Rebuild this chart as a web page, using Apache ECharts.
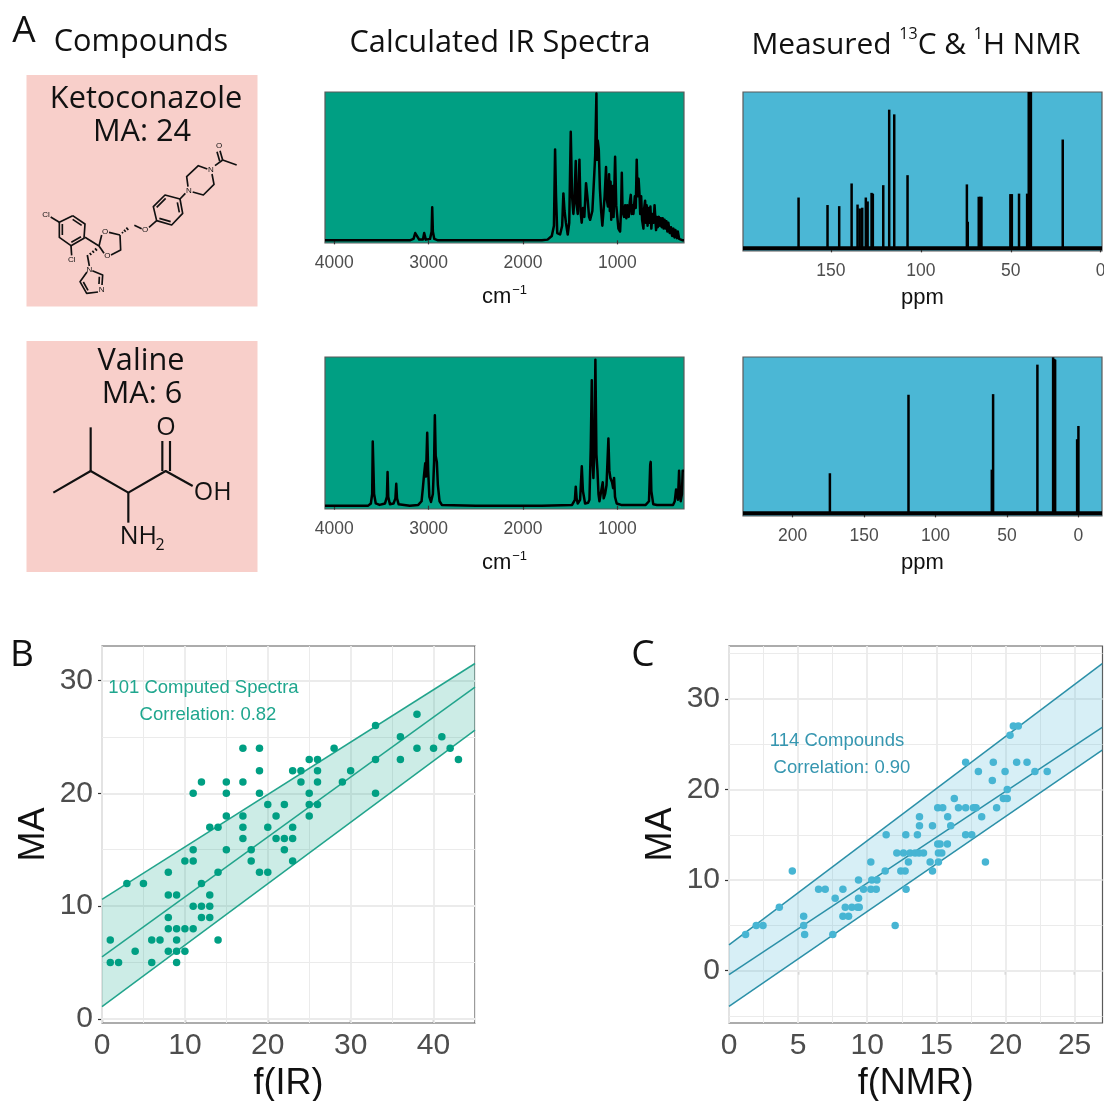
<!DOCTYPE html>
<html><head><meta charset="utf-8">
<style>html,body{margin:0;padding:0;background:#fff}#c{width:1104px;height:1101px}</style>
<script src="https://cdn.jsdelivr.net/npm/echarts@6/dist/echarts.min.js"></script>
</head><body><div id="c"></div>
<script>
// ---------- DATA ----------
const irKetoconazole = [[4098,0],[3200,0],[3160,1],[3142,5],[3130,4],[3125,5],[3100,.5],[3060,.5],[3047,5],[3030,.5],[2985,1],[2968,6],[2962,22.6],[2955,6],[2940,1],[2900,0],[1800,0],[1740,.5],[1695,3],[1672,10],[1660,62],[1650,30],[1637,5],[1607,4],[1585,10],[1572,32],[1560,20],[1545,12],[1526,4],[1510,12],[1494,74],[1480,30],[1466,18],[1455,28],[1441,54],[1432,25],[1420,18],[1402,55],[1390,20],[1378,12],[1365,22],[1350,16],[1332,39],[1315,28],[1300,16],[1289,14],[1278,13],[1265,20],[1244,46],[1235,58],[1222,100],[1216,55],[1208,68],[1197,62],[1185,35],[1172,20],[1159,10],[1147,10],[1135,30],[1120,50],[1112,28],[1100,23],[1088,45],[1080,20],[1072,40],[1065,14],[1058,32],[1049,37],[1040,16],[1024,57],[1012,24],[989,8],[971,6],[960,22],[953,46],[945,20],[929,16],[918,24],[905,15],[895,24],[880,16],[868,26],[858,31],[848,18],[838,24],[830,18],[815,30],[805,22],[795,55],[785,30],[775,42],[766,32],[758,18],[748,30],[738,14],[724,8],[716,22],[706,27],[698,12],[690,24],[680,10],[672,22],[660,12],[650,23],[640,8],[628,18],[615,12],[606,24],[600,24],[590,7],[582,16],[572,9],[560,16],[550,10],[540,15],[530,9],[520,15],[510,8],[500,14],[490,8],[480,13],[470,6],[460,12],[445,5],[432,9],[420,3],[406,8],[395,2],[385,7],[370,1.5],[360,6],[345,1],[330,1],[308,0],[294,0]];
const irValine = [[4098,0],[3640,0],[3612,1.5],[3598,8],[3592,44],[3586,44],[3578,8],[3560,1.5],[3520,.5],[3462,1.5],[3442,6],[3435,23],[3428,6],[3410,1],[3372,1.5],[3352,5],[3343,15],[3335,5],[3318,1],[3200,0],[3110,.5],[3075,3],[3061,12],[3050,20],[3036,29],[3028,20],[3015,50],[3005,24],[2992,6],[2975,2.5],[2955,8],[2942,30],[2934,62],[2925,34],[2913,30],[2902,14],[2884,3],[2860,.5],[2500,0],[1800,0],[1480,.5],[1450,4],[1441,13],[1432,5],[1420,1.5],[1395,4],[1377,27],[1365,10],[1342,1.5],[1310,2],[1296,4],[1282,40],[1271,86],[1262,30],[1254,19],[1243,40],[1233,100],[1222,35],[1211,24],[1200,8],[1190,3],[1170,4],[1155,16],[1145,5],[1130,8],[1115,14],[1095,46],[1085,24],[1074,19],[1056,16],[1045,12],[1035,19],[1025,6],[1007,1.5],[960,.5],[700,.5],[665,3],[652,28],[647,30],[640,10],[620,1],[580,.5],[410,.5],[392,3],[378,11],[368,10],[358,4],[346,24],[338,10],[329,3],[316,8],[308,24],[294,24]];
const nmrKetoPpm = [168,151.9,145.4,138.5,135.2,134,132.6,130.6,129.6,127.4,126.7,120.9,117.6,114.8,107.4,74.4,73.9,67.8,67,66.3,50.2,49.4,45.4,40.9,40,39.6,39.2,38.8,21.1];
const nmrKetoInt = [32.5,27.7,27,41.5,28,25.5,26,32.5,30,35.5,35,40.4,88.7,85.7,46.8,40.9,17,33,33,33,34.7,34.7,35,35,100,100,100,100,69.6];
const nmrValinePpm = [173.9,118.9,59.7,60.6,28.7,17.7,16.9,16.3,0,0.9];
const nmrValineInt = [25.7,76,76.4,28,95.3,100,99,98.5,56,47.5];

const irTicks = [4000,3000,2000,1000];
const nmrKetoTicks = [150,100,50,0];
const nmrValineTicks = [200,150,100,50,0];

const bMajorX=[0,10,20,30,40], bMinorX=[5,15,25,35,45], bMajorY=[0,10,20,30], bMinorY=[5,15,25];
const cMajorX=[0,5,10,15,20,25], cMinorX=[2.5,7.5,12.5,17.5,22.5], cMajorY=[0,10,20,30], cMinorY=[-5,5,15,25,35];

const bPoints = [[38,27],[33,26],[36,25],[41,25],[17,24],[19,24],[28,24],[38,24],[40,24],[42,24],[25,23],[26,23],[33,23],[36,23],[43,23],[19,22],[23,22],[24,22],[26,22],[30,22],[12,21],[15,21],[17,21],[24,21],[26,21],[29,21],[11,20],[15,20],[19,20],[25,20],[33,20],[20,19],[22,19],[25,19],[26,19],[15,18],[17,18],[21,18],[25,18],[13,17],[14,17],[17,17],[20,17],[23,17],[17,16],[21,16],[22,16],[23,16],[11,15],[15,15],[18,15],[22,15],[10,14],[11,14],[18,14],[23,14],[8,13],[14,13],[19,13],[20,13],[3,12],[5,12],[12,12],[8,11],[9,11],[13,11],[11,10],[12,10],[13,10],[8,9],[12,9],[13,9],[8,8],[9,8],[10,8],[11,8],[1,7],[6,7],[7,7],[9,7],[14,7],[4,6],[8,6],[9,6],[10,6],[1,5],[2,5],[6,5],[9,5]];
const cPoints = [[20.57,27],[20.93,27],[20.33,26],[17.12,23],[19.12,23],[20.81,23],[21.56,23],[18.04,22],[19.97,22],[22.13,22],[23.02,22],[19.05,21],[20.13,20],[16.3,19],[19.85,19],[20.13,19],[15.1,18],[15.46,18],[16.6,18],[17.12,18],[17.68,18],[17.87,18],[19.36,18],[13.78,17],[15.82,17],[18.28,17],[13.78,16],[14.72,16],[16.04,16],[11.37,15],[12.79,15],[13.63,15],[17.12,15],[17.56,15],[15.1,14],[15.27,14],[15.8,14],[12.14,13],[12.62,13],[13.1,13],[13.46,13],[13.75,13],[14.07,13],[15.15,13],[15.39,13],[10.26,12],[12.98,12],[14.55,12],[15.15,12],[18.55,12],[4.58,11],[11.3,11],[12.43,11],[12.74,11],[14.72,11],[9.37,10],[10.33,10],[10.7,10],[6.48,9],[6.96,9],[8.24,9],[9.73,9],[10.26,9],[10.65,9],[12.81,9],[7.68,8],[9.37,8],[3.64,7],[8.41,7],[8.89,7],[9.3,7],[9.42,7],[5.4,6],[8.24,6],[8.65,6],[1.97,5],[2.46,5],[5.4,5],[12.02,5],[1.2,4],[5.47,4],[7.51,4]];

const bUpper=[[0,10.6],[45,31.5]], bFit=[[0,5.5],[45,29.4]], bLower=[[0,1.1],[45,25.6]];
const cUpper=[[0,2.86],[27,33.9]], cFit=[[0,-0.44],[27,26.85]], cLower=[[0,-3.93],[27,24.35]];

// ---------- STYLE / LAYOUT ----------
const SANS='"Liberation Sans",Arial,sans-serif', HUM='"Open Sans","Noto Sans",sans-serif';
const GREEN='#009f83', BLUE='#4bb7d5', TICK='#4d4d4d', BORDER='#5a5a5a';
const PANELS=[
 {l:325,t:92,r:684,b:243,bg:GREEN},{l:743,t:92,r:1102,b:251,bg:BLUE},
 {l:325,t:357,r:684,b:509,bg:GREEN},{l:743,t:357,r:1102,b:516,bg:BLUE},
 {l:102,t:646,r:475,b:1023,bg:'#fff'},{l:729,t:646,r:1102.5,b:1023,bg:'#fff'}];
const grid=PANELS.map(p=>({left:p.l,top:p.t,width:p.r-p.l,height:p.b-p.t,show:true,backgroundColor:p.bg,borderColor:BORDER,borderWidth:1.2,outerBoundsMode:'none',containLabel:false}));

function xAx(i,min,max,ticks,name,o){o=o||{};return Object.assign({gridIndex:i,type:'value',min,max,inverse:!!o.inverse,
 name,nameLocation:'middle',nameGap:o.gap,nameTextStyle:Object.assign({fontFamily:SANS,fontSize:o.nameSize,color:'#111',rich:{s:{fontFamily:SANS,fontSize:13,color:'#111',verticalAlign:'top',lineHeight:26,padding:[0,0,0,1]}}},o.nts||{}),
 axisLine:{show:false},splitLine:{show:false},
 axisTick:{show:true,length:o.tl||4,customValues:ticks,lineStyle:{color:'#333',width:1.2}},
 axisLabel:{show:true,customValues:ticks,margin:o.margin,formatter:v=>String(v),fontFamily:SANS,fontSize:o.size,color:TICK,hideOverlap:false,showMinLabel:true,showMaxLabel:true}});}
function yHidden(i,min,max){return {gridIndex:i,type:'value',min,max,show:false,splitLine:{show:false}};}
function yAx(i,min,max,ticks,name,gap){return {gridIndex:i,type:'value',min,max,name,nameLocation:'middle',nameGap:gap,nameRotate:90,
 nameTextStyle:{fontFamily:SANS,fontSize:36,color:'#111'},axisLine:{show:false},splitLine:{show:false},
 axisTick:{show:true,length:4,customValues:ticks,lineStyle:{color:'#333',width:1.2}},
 axisLabel:{show:true,customValues:ticks,margin:9,fontFamily:SANS,fontSize:30,color:TICK}};}

const xAxis=[
 xAx(0,294,4098,irTicks,'cm{s|−1}',{inverse:true,gap:41,size:17.5,nameSize:22,margin:11}),
 xAx(1,-0.74,198.9,nmrKetoTicks,'ppm',{inverse:true,gap:36,size:17.5,nameSize:22,margin:11}),
 xAx(2,294,4098,irTicks,'cm{s|−1}',{inverse:true,gap:41,size:17.5,nameSize:22,margin:11}),
 xAx(3,-16.5,234.7,nmrValineTicks,'ppm',{inverse:true,gap:36,size:17.5,nameSize:22,margin:11}),
 xAx(4,0,45,bMajorX,'f(IR)',{gap:43,size:30,nameSize:36,margin:8}),
 xAx(5,0,27.02,cMajorX,'f(NMR)',{gap:43,size:30,nameSize:36,margin:8})];
const yAxis=[
 yHidden(0,-1.8,101.1),yHidden(1,-1.7,100),yHidden(2,-2.3,101.9),yHidden(3,-1.7,100.2),
 yAx(4,-0.35,33.05,bMajorY,'MA',50),yAx(5,-5.77,35.84,cMajorY,'MA',50)];

const zipPairs=(a,b)=>a.map((v,i)=>[v,b[i]]);
function ir(i,data){return {type:'line',xAxisIndex:i,yAxisIndex:i,data,symbol:'none',silent:true,lineStyle:{color:'#000',width:2.5,join:'round'},z:3};}
function sticks(i,px,iv,xmin,xmax){return [
 {type:'bar',xAxisIndex:i,yAxisIndex:i,data:zipPairs(px,iv),barWidth:2.5,itemStyle:{color:'#000'},silent:true,z:3},
 {type:'line',xAxisIndex:i,yAxisIndex:i,data:[[xmin,0],[xmax,0]],symbol:'none',silent:true,lineStyle:{color:'#000',width:4,cap:'butt'},z:3}];}
function gridLines(i,majX,minX,majY,minY){
 const mk=(arr,k,w)=>arr.map(v=>({[k]:v,lineStyle:{color:'#ebebeb',width:w,type:'solid'}}));
 return {type:'line',xAxisIndex:i,yAxisIndex:i,data:[],symbol:'none',silent:true,z:1,
  markLine:{silent:true,symbol:'none',animation:false,label:{show:false},z:1,
   data:[...mk(minX,'xAxis',1),...mk(minY,'yAxis',1),...mk(majX,'xAxis',1.8),...mk(majY,'yAxis',1.8)]}};
}
function band(i,up,lo,fill){return {type:'custom',xAxisIndex:i,yAxisIndex:i,silent:true,z:2,clip:true,data:[[0,0]],
 renderItem:(p,api)=>({type:'polygon',shape:{points:[...up,...lo.slice().reverse()].map(d=>api.coord(d))},style:{fill}})};}
function rule(i,data,c){return {type:'line',xAxisIndex:i,yAxisIndex:i,data,symbol:'none',silent:true,z:3,lineStyle:{color:c,width:1.5}};}
function dots(i,data,c){return {type:'scatter',xAxisIndex:i,yAxisIndex:i,data,symbolSize:7.5,silent:true,z:4,itemStyle:{color:c,opacity:1}};}

const series=[
 ir(0,irKetoconazole),ir(2,irValine),
 ...sticks(1,nmrKetoPpm,nmrKetoInt,198.9,-0.74),
 ...sticks(3,nmrValinePpm,nmrValineInt,234.7,-16.5),
 gridLines(4,bMajorX,bMinorX,bMajorY,bMinorY),
 band(4,bUpper,bLower,'rgba(0,158,130,0.2)'),
 rule(4,bUpper,'#22a48c'),rule(4,bFit,'#22a48c'),rule(4,bLower,'#22a48c'),
 dots(4,bPoints,'#009f83'),
 gridLines(5,cMajorX,cMinorX,cMajorY,cMinorY),
 band(5,cUpper,cLower,'rgba(75,183,213,0.22)'),
 rule(5,cUpper,'#2b90a8'),rule(5,cFit,'#2b90a8'),rule(5,cLower,'#2b90a8'),
 dots(5,cPoints,'#47b5d3')];

// ---------- MOLECULE SKETCHES & TEXT ----------
const ketoBonds=[[[660,452],[668,480]],[[651,455],[659,483]],[[668,480],[710,495]],[[668,480],[645,497]],
 [[622,507],[595,497],[560,530],[564,560]],[[578,576],[610,585],[642,553],[636,522]],[[556,580],[540,597]],
 [[540,597],[495,585],[460,620],[470,662],[515,675],[548,640],[540,597]],[[497,595],[470,622]],[[478,655],[512,665]],[[538,637],[532,607]],
 [[470,662],[447,682]],[[425,686],[403,676]],[[360,705],[327,697]],[[305,705],[297,738]],[[297,738],[312,760]],[[333,765],[362,750],[360,705]],
 [[297,738],[255,712]],[[218,647],[255,672],[252,715],[213,737],[178,712],[178,667],[218,647]],[[218,658],[245,676]],[[243,710],[214,727]],[[187,705],[187,672]],
 [[178,667],[152,651]],[[213,737],[215,766]],[[262,765],[268,798]],
 [[277,812],[308,825],[306,855]],[[294,876],[260,880],[240,845],[261,816]],[[298,830],[297,852]],[[264,871],[250,846]]];
const ketoHash=[[[385,690],[379,683]],[[377,695],[372,689]],[[369,700],[366,696]],[[285,745],[291,752]],[[277,752],[282,758]],[[269,759],[274,765]]];
const ketoAtoms=[['O',657,436],['N',633,510],['N',567,572],['O',435,688],['O',315,695],['O',322,768],['Cl',138,645],['Cl',215,780],['N',268,808],['N',305,868]];
const valineBonds=[[[160,488],[272,423],[385,488],[497,423],[578,468]],[[272,423],[272,292]],[[385,488],[385,578]],[[487,423],[487,333]],[[510,423],[510,333]]];

const polylines=(b,w)=>b.map(points=>({type:'polyline',shape:{points},style:{stroke:'#111',fill:null,lineWidth:w,lineJoin:'round'},silent:true}));
const T=(text,x,y,o)=>({type:'text',silent:true,z:20,x,y,style:Object.assign({text,fill:'#111',textAlign:'center',textVerticalAlign:'middle',fontFamily:HUM,fontSize:30},o||{})});
const sup={s:{fontFamily:HUM,fontSize:16,fill:'#111',verticalAlign:'top',lineHeight:38}};

const graphic=[
 {type:'rect',silent:true,shape:{x:26.5,y:75,width:231,height:231.5},style:{fill:'#f8cfca'},z:-1},
 {type:'rect',silent:true,shape:{x:26.5,y:341,width:231,height:231},style:{fill:'#f8cfca'},z:-1},
 T('A',24,31,{fontSize:37}),T('B',22,655,{fontSize:37}),T('C',643,655,{fontSize:37}),
 T('Compounds',141,42,{fontSize:30.7}),
 T('Calculated IR Spectra',500,43,{fontSize:30.7}),
 T('Measured {s|13}C & {s|1}H NMR',916,45,{fontSize:29.9,rich:sup}),
 T('Ketoconazole',146,99,{fontSize:30.7}),T('MA: 24',142,132,{fontSize:30.7}),
 T('Valine',141,361,{fontSize:30.7}),T('MA: 6',142,394,{fontSize:30.7}),
 {type:'group',x:0,y:0,scaleX:1/3,scaleY:1/3,silent:true,children:[
   ...polylines(ketoBonds,5),...polylines(ketoHash,5),
   ...ketoAtoms.map(a=>T(a[0],a[1],a[2],{fontFamily:SANS,fontSize:24}))]},
 {type:'group',x:0,y:330,scaleX:1/3,scaleY:1/3,silent:true,children:[
   ...polylines(valineBonds,6.5),
   T('O',498,293,{fontSize:75}),T('OH',638,490,{fontSize:75}),T('NH',415,622,{fontSize:75}),T('2',480,645,{fontSize:48})]},
 T('101 Computed Spectra',203.5,688,{fontFamily:SANS,fontSize:18.5,fill:'#1fa68e'}),
 T('Correlation: 0.82',208,715,{fontFamily:SANS,fontSize:18.5,fill:'#1fa68e'}),
 T('114 Compounds',837,741,{fontFamily:SANS,fontSize:18.5,fill:'#3596b0'}),
 T('Correlation: 0.90',842,768,{fontFamily:SANS,fontSize:18.5,fill:'#3596b0'})];

const chart=echarts.init(document.getElementById('c'),null,{renderer:'canvas'});
chart.setOption({animation:false,backgroundColor:'#fff',grid,xAxis,yAxis,series,graphic});
</script></body></html>
